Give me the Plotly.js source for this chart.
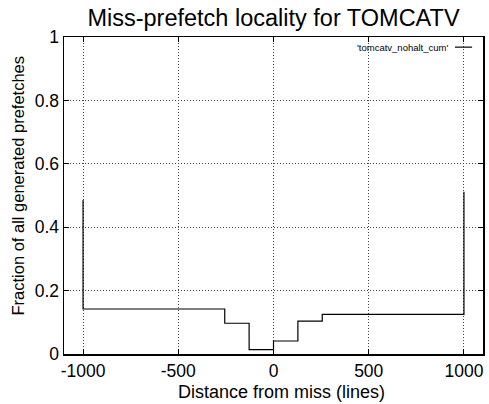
<!DOCTYPE html>
<html>
<head>
<meta charset="utf-8">
<script src="https://cdn.plot.ly/plotly-3.0.1.min.js"></script>
<style>html,body{margin:0;padding:0;background:#fff;}#chart{width:489px;height:404px;}</style>
</head>
<body>
<div id="chart"></div>
<script>
const distance = [-1000, -1000, -256, -128, 0, 128, 256, 1000, 1000];
const fraction = [0.486, 0.142, 0.097, 0.014, 0.041, 0.104, 0.125, 0.125, 0.512];
const seriesName = "'tomcatv_nohalt_cum'";
const xTicks = [-1000, -500, 0, 500, 1000];
const yTicks = [0, 0.2, 0.4, 0.6, 0.8, 1];
const yTickText = ['0', '0.2', '0.4', '0.6', '0.8', '1'];
const xTitle = 'Distance from miss (lines)';
const yTitle = 'Fraction of all generated prefetches';

const font = 'Liberation Sans, Arial, Helvetica, sans-serif';
const trace = {
  x: distance, y: fraction, type: 'scatter', mode: 'lines',
  line: {shape: 'hv', color: '#000', width: 1.2},
  name: seriesName, showlegend: false, hoverinfo: 'skip'
};
const axisCommon = {
  showline: true, linecolor: '#000', linewidth: 1.5, mirror: 'ticks',
  ticks: 'inside', ticklen: 5, tickcolor: '#000', tickwidth: 1,
  showgrid: true, gridcolor: '#444', griddash: '1px,2px', gridwidth: 1,
  zeroline: false, tickfont: {family: font, size: 17.5, color: '#000'}
};
const layout = {
  width: 489, height: 404,
  margin: {l: 64, r: 6, t: 37, b: 50},
  paper_bgcolor: '#fff', plot_bgcolor: '#fff',
  title: {text: 'Miss-prefetch locality for TOMCATV', font: {family: font, size: 23.5, color: '#000'},
          x: 0.5, xref: 'paper', y: 0.955, yref: 'container', yanchor: 'middle'},
  xaxis: Object.assign({}, axisCommon, {
    range: [-1100, 1100], tickvals: xTicks, ticktext: xTicks.map(String)
  }),
  yaxis: Object.assign({}, axisCommon, {
    range: [0, 1], tickvals: yTicks, ticktext: yTickText
  }),
  annotations: [{
    text: seriesName, xref: 'paper', yref: 'paper', x: 0.921, y: 0.968,
    xanchor: 'right', yanchor: 'middle', showarrow: false,
    font: {family: font, size: 9.5, color: '#000'}
  }, {
    text: xTitle, xref: 'paper', yref: 'paper', x: 0.52, y: -0.119,
    xanchor: 'center', yanchor: 'middle', showarrow: false, borderpad: 0,
    font: {family: font, size: 18, color: '#000'}
  }, {
    text: yTitle, xref: 'paper', yref: 'paper', x: -0.1086, y: 0.533, textangle: -90,
    xanchor: 'center', yanchor: 'middle', showarrow: false, borderpad: 0,
    font: {family: font, size: 16.5, color: '#000'}
  }],
  shapes: [{
    type: 'line', xref: 'paper', yref: 'paper', x0: 0.933, x1: 0.974, y0: 0.968, y1: 0.968,
    line: {color: '#000', width: 1.2}
  }]
};
Plotly.newPlot('chart', [trace], layout, {displayModeBar: false, staticPlot: true});
</script>
</body>
</html>
